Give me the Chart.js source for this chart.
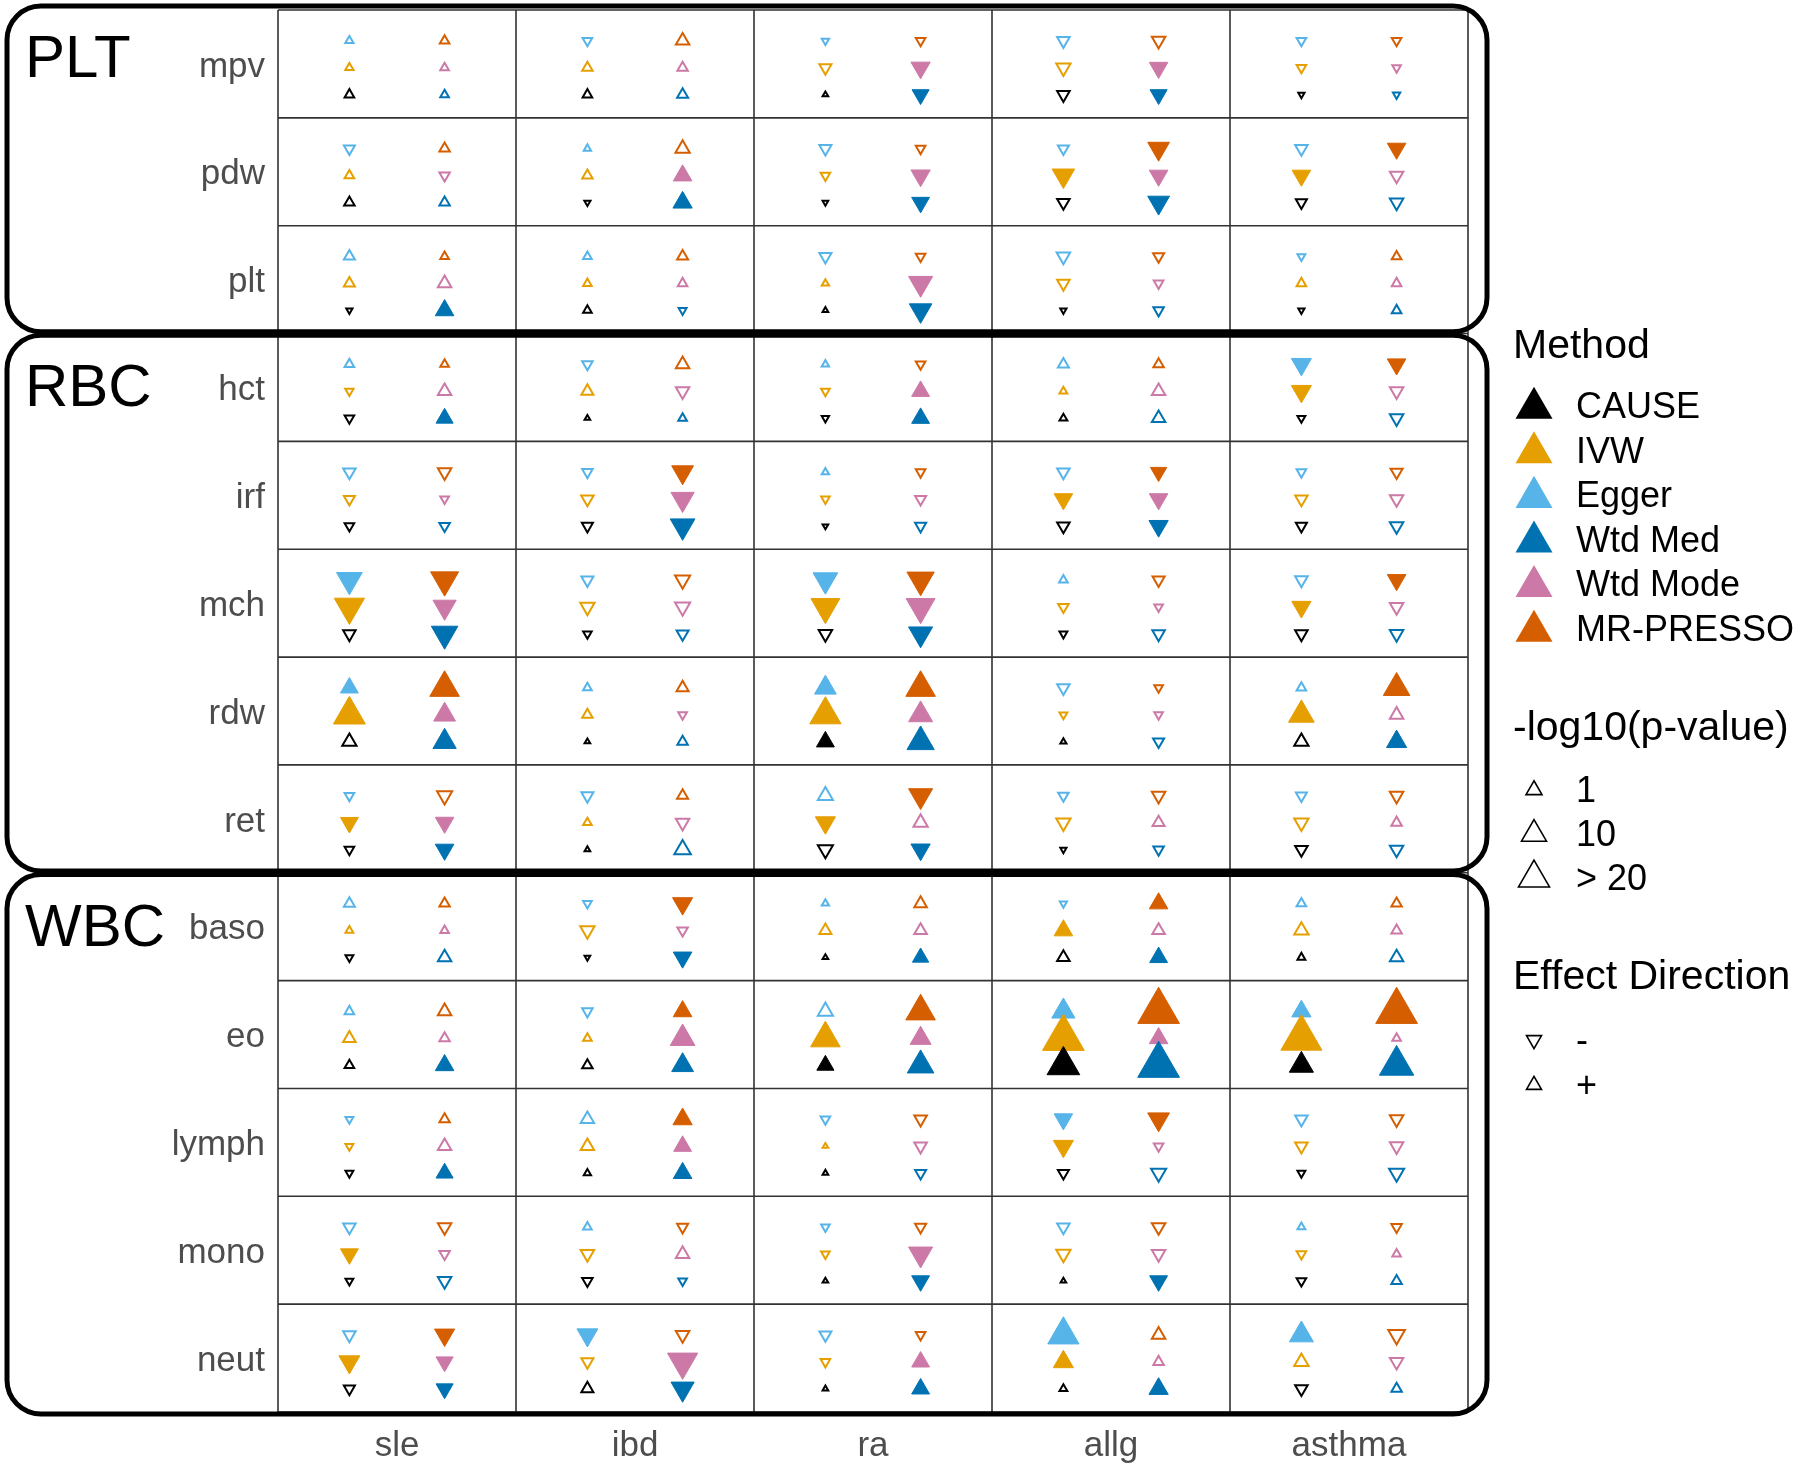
<!DOCTYPE html>
<html>
<head>
<meta charset="utf-8">
<script src="https://cdn.jsdelivr.net/npm/chart.js@4.4.1/dist/chart.umd.min.js"></script>
<style>
  html, body { margin: 0; padding: 0; background: #fff; }
</style>
</head>
<body>
<canvas id="chart" width="1800" height="1474"></canvas>
<script>
// rows (top to bottom) and columns
const traits = ['mpv', 'pdw', 'plt', 'hct', 'irf', 'mch', 'rdw', 'ret', 'baso', 'eo', 'lymph', 'mono', 'neut'];
const diseases = ['sle', 'ibd', 'ra', 'allg', 'asthma'];
const groupNames = ['PLT', 'RBC', 'WBC'];
const groupSizes = [3, 5, 5];

// -log10(p) per trait x disease, sign = effect direction (negative = down)
// *Sig = 1 where the marker is filled
const causeP = [
  [ 1.5,  1.5,  0.5,  -2.6, -0.6],
  [ 1.8, -0.6, -0.5,  -2.6, -2.0],
  [-0.6,  1.2,  0.5,  -0.6, -0.6],
  [-1.5,  0.5, -0.85,  1.0, -1.0],
  [-1.5, -2.0, -0.5,  -2.6, -2.0],
  [-2.6, -1.2, -3.0,  -1.0, -2.6],
  [ 3.4,  0.5,  4.2,   0.6,  3.4],
  [-1.5,  0.5, -3.8,  -0.6, -2.6],
  [-1.0, -0.5,  0.5,   2.6,  1.0],
  [ 1.5,  1.8,  3.8,  16.0,  8.2],
  [-1.0,  0.85, 0.5,  -2.0, -1.0],
  [-1.0, -1.8,  0.5,   0.5, -1.5],
  [-2.0,  2.4,  0.5,   1.0, -2.6]
];
const causeSig = [
  [0,0,0,0,0],[0,0,0,0,0],[0,0,0,0,0],[0,0,0,0,0],[0,0,0,0,0],
  [0,0,0,0,0],[0,0,1,0,0],[0,0,0,0,0],[0,0,0,0,0],[0,0,1,1,1],
  [0,0,0,0,0],[0,0,0,0,0],[0,0,0,0,0]
];

const ivwP = [
  [  1.1,  1.8,  -2.4, -3.4, -1.5],
  [  1.5,  1.8,  -1.5, -7.1, -4.6],
  [  2.0,  1.2,   0.85,-2.6,  1.5],
  [ -1.1,  2.4,  -1.2,  1.0, -5.5],
  [ -2.0, -2.6,  -1.2, -4.6, -2.6],
  [-13.6, -3.4, -12.3, -1.8, -5.0],
  [ 15.2,  1.8,  14.6, -1.0,  9.5],
  [ -4.2,  1.2,  -5.5, -3.4, -3.4],
  [  1.0, -3.4,   2.4,  4.6,  3.4],
  [  2.6,  1.2,  12.9, 27.0, 26.0],
  [ -1.0,  3.0,   0.5, -5.5, -2.6],
  [ -4.2, -3.0,  -1.2, -3.4, -1.5],
  [ -6.0, -2.4,  -1.5,  5.5,  3.4]
];
const ivwSig = [
  [0,0,0,0,0],[0,0,0,1,1],[0,0,0,0,0],[0,0,0,0,1],[0,0,0,1,0],
  [1,0,1,0,1],[1,0,1,0,1],[1,0,1,0,0],[0,0,0,1,0],[0,0,1,1,1],
  [0,0,0,1,0],[1,0,0,0,0],[1,0,0,1,0]
];

const eggerP = [
  [ 1.1, -1.5,  -0.85, -2.6,  -1.5],
  [-2.0,  0.85, -2.4,  -2.0,  -2.6],
  [ 2.0,  1.2,  -2.4,  -3.0,  -1.0],
  [ 1.5, -1.8,   0.85,  2.0,  -5.5],
  [-2.6, -1.8,   0.85, -2.6,  -1.5],
  [-9.5, -2.4,  -8.7,   1.2,  -2.6],
  [ 4.2,  1.2,   6.6,  -2.6,   1.5],
  [-1.5, -2.4,   3.8,  -1.8,  -2.0],
  [ 2.0, -1.2,   0.85, -0.85,  1.5],
  [ 1.5, -1.8,   3.8,   7.6,   5.0],
  [-1.0,  3.0,  -1.5,  -4.6,  -2.6],
  [-2.6,  1.2,  -1.2,  -2.6,   1.0],
  [-2.6, -6.0,  -2.4,  14.6,   8.2]
];
const eggerSig = [
  [0,0,0,0,0],[0,0,0,0,0],[0,0,0,0,0],[0,0,0,0,1],[0,0,0,0,0],
  [1,0,1,0,0],[1,0,1,0,0],[0,0,0,0,0],[0,0,0,0,0],[0,0,0,1,1],
  [0,0,0,1,0],[0,0,0,0,0],[0,1,0,1,1]
];

const medP = [
  [  1.2,  2.0, -3.8, -3.8, -0.85],
  [  1.8,  5.0, -4.2, -6.6, -3.0],
  [  4.6, -1.0, -7.1, -1.8,  1.5],
  [  3.8,  1.2,  4.2,  3.0, -3.0],
  [ -1.8, -8.7, -2.0, -5.0, -3.0],
  [-10.2, -2.4, -8.2, -2.6, -3.0],
  [  7.6,  1.8, 10.8, -2.0,  5.5],
  [ -4.6,  4.6, -5.0, -1.8, -3.0],
  [  3.0, -4.6,  3.4,  4.2,  3.0],
  [  4.6,  6.6, 10.2, 27.0, 17.8],
  [  3.8,  4.6, -2.0, -3.8, -3.8],
  [ -3.0, -1.2, -4.2, -4.2,  1.8],
  [ -3.8, -7.6,  4.2,  5.0,  1.8]
];
const medSig = [
  [0,0,1,1,0],[0,1,1,1,0],[1,0,1,0,0],[1,0,1,0,0],[0,1,0,1,0],
  [1,0,1,0,0],[1,0,1,0,1],[1,0,1,0,0],[0,1,1,1,0],[1,1,1,1,1],
  [1,1,0,0,0],[0,0,1,1,0],[1,1,1,1,0]
];

const modeP = [
  [ 1.2,   1.8,  -5.0, -4.6, -1.2],
  [-1.8,   4.6,  -5.0, -4.6, -3.0],
  [ 3.0,   1.5,  -8.2, -1.5,  1.5],
  [ 3.0,  -3.0,   4.2,  3.0, -3.0],
  [-1.2,  -7.6,  -2.0, -4.6, -3.0],
  [-7.6,  -3.8, -12.3, -1.2, -3.0],
  [ 6.6,  -1.2,   8.2, -1.2,  3.0],
  [-4.6,  -3.0,   3.4,  2.4,  1.8],
  [ 1.2,  -1.8,   2.6,  2.6,  1.8],
  [ 1.8,   8.7,   6.0,  4.6,  1.2],
  [ 3.0,   4.2,  -2.6, -1.5, -3.0],
  [-1.8,   3.0,  -8.2, -3.0,  1.2],
  [-3.8, -13.6,   4.2,  1.8, -3.0]
];
const modeSig = [
  [0,0,1,1,0],[0,1,1,1,0],[0,0,1,0,0],[0,0,1,0,0],[0,1,0,1,0],
  [1,0,1,0,0],[1,0,1,0,0],[1,0,0,0,0],[0,0,0,0,0],[0,1,1,1,0],
  [0,1,0,0,0],[0,0,1,0,0],[1,1,1,0,0]
];

const presso = [
  [  1.5,  3.0,  -1.5, -3.0, -1.5],
  [  1.8,  3.4,  -1.5, -6.6, -4.6],
  [  1.2,  2.0,  -1.5, -2.0,  1.5],
  [  1.2,  3.0,  -1.5,  1.8, -4.6],
  [ -3.0, -6.6,  -1.5, -3.4, -2.4],
  [-11.5, -3.8, -10.8, -2.4, -4.6],
  [ 12.9,  2.4,  12.9, -1.2, 10.2],
  [ -3.8,  2.0,  -8.2, -3.0, -3.0],
  [  1.8, -5.5,   2.6,  4.6,  1.8],
  [  3.0,  4.6,  12.9, 27.0, 27.0],
  [  1.8,  5.0,  -2.6, -6.6, -3.0],
  [ -3.0, -2.0,  -2.0, -3.0, -1.8],
  [ -5.5, -3.0,  -1.5,  3.0, -4.6]
];
const pressoSig = [
  [0,0,0,0,0],[0,0,0,1,1],[0,0,0,0,0],[0,0,0,0,1],[0,1,0,1,0],
  [1,0,1,0,1],[1,0,1,0,1],[0,0,1,0,0],[0,1,0,1,0],[0,1,1,1,1],
  [0,1,0,1,0],[0,0,0,0,0],[1,0,0,0,0]
];

const sizeLabels = ['1', '10', '> 20'];
const directionLabels = ['-', '+'];

const FONT = '"Liberation Sans", Arial, Helvetica, sans-serif';

// legend order; each method sits in a fixed slot of the cell
const methods = [
  { label: 'CAUSE',     p: causeP, sig: causeSig,  color: '#000000', dx: 0.3, dy: 0.785 },
  { label: 'IVW',       p: ivwP,   sig: ivwSig,    color: '#E69F00', dx: 0.3, dy: 0.535 },
  { label: 'Egger',     p: eggerP, sig: eggerSig,  color: '#56B4E9', dx: 0.3, dy: 0.285 },
  { label: 'Wtd Med',   p: medP,   sig: medSig,    color: '#0072B2', dx: 0.7, dy: 0.785 },
  { label: 'Wtd Mode',  p: modeP,  sig: modeSig,   color: '#CC79A7', dx: 0.7, dy: 0.535 },
  { label: 'MR-PRESSO', p: presso, sig: pressoSig, color: '#D55E00', dx: 0.7, dy: 0.285 }
];

// marker width in px from -log10(p)
function markerWidth(v) {
    return 2.3 + 7.6 * Math.sqrt(Math.abs(v));
}

function markerRadius(raw) {
    if (!raw) return 3;
    const w = markerWidth(raw.v);
    return raw.sig ? w / Math.sqrt(3) : (w - 2) / Math.sqrt(3);
}

// plain triangle for the hand drawn legend
function triangle(ctx, cx, cy, w, up, color, filled, lw) {
    const r = w / Math.sqrt(3);
    const s = up ? 1 : -1;
    ctx.beginPath();
    ctx.moveTo(cx, cy - s * r);
    ctx.lineTo(cx + w / 2, cy + s * r / 2);
    ctx.lineTo(cx - w / 2, cy + s * r / 2);
    ctx.closePath();
    if (filled) {
        ctx.fillStyle = color;
        ctx.fill();
    } else {
        ctx.strokeStyle = color;
        ctx.lineWidth = lw;
        ctx.stroke();
    }
}

function roundBox(ctx, x0, y0, x1, y1, r) {
    ctx.beginPath();
    ctx.moveTo(x0 + r, y0);
    ctx.lineTo(x1 - r, y0);
    ctx.arcTo(x1, y0, x1, y0 + r, r);
    ctx.lineTo(x1, y1 - r);
    ctx.arcTo(x1, y1, x1 - r, y1, r);
    ctx.lineTo(x0 + r, y1);
    ctx.arcTo(x0, y1, x0, y1 - r, r);
    ctx.lineTo(x0, y0 + r);
    ctx.arcTo(x0, y0, x0 + r, y0, r);
    ctx.closePath();
    ctx.stroke();
}

const decor = {
    id: 'decor',
    beforeDatasetsDraw(chart) {
        const { ctx, chartArea: a, scales: { x, y } } = chart;
        ctx.save();
        ctx.strokeStyle = '#333333';
        ctx.lineWidth = 1.6;
        ctx.beginPath();
        for (let i = 0; i <= diseases.length; i++) {
            const px = x.getPixelForValue(i);
            ctx.moveTo(px, a.top);
            ctx.lineTo(px, a.bottom);
        }
        for (let j = 0; j <= traits.length; j++) {
            const py = y.getPixelForValue(j);
            ctx.moveTo(a.left, py);
            ctx.lineTo(a.right, py);
        }
        ctx.stroke();
        ctx.restore();
    },
    afterDraw(chart) {
        const { ctx, chartArea: a, scales: { x, y } } = chart;
        ctx.save();

        // trait labels
        ctx.fillStyle = '#4D4D4D';
        ctx.font = '35px ' + FONT;
        ctx.textAlign = 'right';
        ctx.textBaseline = 'middle';
        traits.forEach((t, j) => {
            ctx.fillText(t, a.left - 13, y.getPixelForValue(j + 0.5) + 3);
        });

        // disease labels
        ctx.textAlign = 'center';
        diseases.forEach((d, i) => {
            ctx.fillText(d, x.getPixelForValue(i + 0.5), a.bottom + 34);
        });

        // group boxes
        let start = 0;
        groupNames.forEach((g, k) => {
            const end = start + groupSizes[k];
            const top = y.getPixelForValue(start) + (k === 0 ? -4 : 1.8);
            const bot = y.getPixelForValue(end) + (k === groupNames.length - 1 ? 2 : -1.8);
            ctx.strokeStyle = '#000';
            ctx.lineWidth = 5;
            roundBox(ctx, 7, top, a.right + 19, bot, 34);
            ctx.fillStyle = '#000';
            ctx.font = '60px ' + FONT;
            ctx.textAlign = 'left';
            ctx.textBaseline = 'alphabetic';
            ctx.fillText(g, 25, top + 71);
            start = end;
        });

        // legend
        const lx = 1513, mx = 1534, tx = 1576;
        ctx.fillStyle = '#000';
        ctx.textAlign = 'left';
        ctx.textBaseline = 'middle';
        ctx.font = '41px ' + FONT;
        ctx.fillText('Method', lx, 347);
        ctx.font = '36px ' + FONT;
        methods.forEach((m, k) => {
            const cy = 406 + k * 44.6;
            triangle(ctx, mx, cy + 2, 37, true, m.color, true);
            ctx.fillStyle = '#000';
            ctx.fillText(m.label, tx, cy + 2);
        });

        ctx.font = '41px ' + FONT;
        ctx.fillText('-log10(p-value)', lx, 729);
        ctx.font = '36px ' + FONT;
        const legW = [16, 25, 31];
        sizeLabels.forEach((s, k) => {
            const cy = 790 + k * 44;
            triangle(ctx, mx, cy, legW[k], true, '#000', false, 1.6);
            ctx.fillStyle = '#000';
            ctx.fillText(s, tx, cy + 2);
        });

        ctx.font = '41px ' + FONT;
        ctx.fillText('Effect Direction', lx, 978);
        ctx.font = '36px ' + FONT;
        directionLabels.forEach((s, k) => {
            const cy = 1040 + k * 45;
            triangle(ctx, mx, cy, 15, s === '+', '#000', false, 1.6);
            ctx.fillStyle = '#000';
            ctx.fillText(s, tx, cy + 2);
        });

        ctx.restore();
    }
};

const datasets = methods.map(m => ({
    label: m.label,
    data: m.p.flatMap((row, j) => row.map((v, i) => ({
        x: i + m.dx,
        y: j + m.dy,
        v: v,
        sig: m.sig[j][i]
    }))),
    showLine: false,
    pointStyle: 'triangle',
    pointRadius: c => markerRadius(c.raw),
    pointRotation: c => (c.raw && c.raw.v < 0 ? 180 : 0),
    pointBackgroundColor: c => (c.raw && c.raw.sig ? m.color : 'rgba(0,0,0,0)'),
    pointBorderColor: m.color,
    pointBorderWidth: c => (c.raw && c.raw.sig ? 1 : 2)
}));

new Chart(document.getElementById('chart'), {
    type: 'scatter',
    data: { datasets: datasets },
    options: {
        responsive: false,
        animation: false,
        events: [],
        layout: { autoPadding: false, padding: { left: 278, right: 332, top: 10, bottom: 62 } },
        plugins: {
            legend: { display: false },
            tooltip: { enabled: false }
        },
        scales: {
            x: { type: 'linear', min: 0, max: 5, display: false },
            y: { type: 'linear', min: 0, max: 13, reverse: true, display: false }
        }
    },
    plugins: [decor]
});
</script>
</body>
</html>
